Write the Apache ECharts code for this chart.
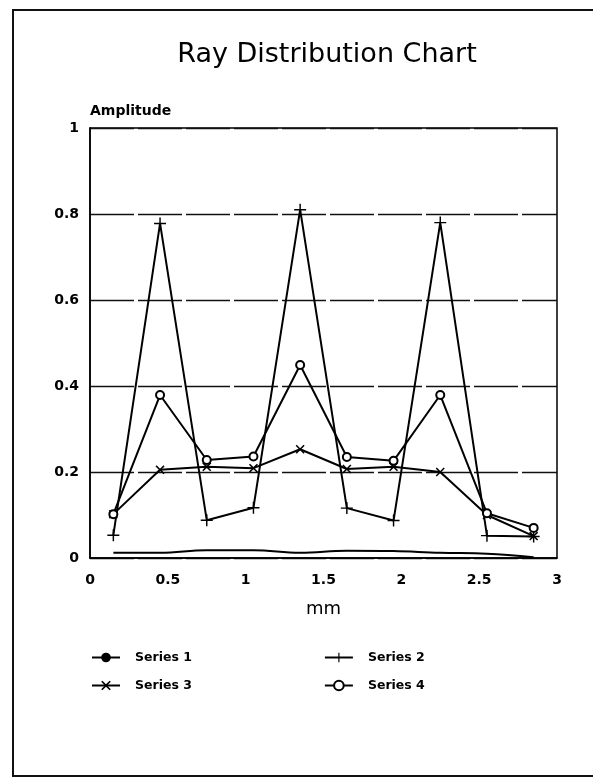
<!DOCTYPE html>
<html>
<head>
<meta charset="utf-8">
<script src="https://cdn.jsdelivr.net/npm/echarts@6/dist/echarts.min.js"></script>
<style>
html,body{margin:0;padding:0;background:#fff;}
#chart{width:593px;height:778px;}
</style>
</head>
<body>
<div id="chart"></div>
<script>
// Data
var xPositions = [0.15, 0.45, 0.75, 1.05, 1.35, 1.65, 1.95, 2.25, 2.55, 2.85];
var series1 = [0.012, 0.012, 0.018, 0.018, 0.012, 0.017, 0.016, 0.012, 0.010, 0.002];
var series2 = [0.053, 0.778, 0.088, 0.117, 0.810, 0.116, 0.087, 0.780, 0.052, 0.050];
var series3 = [0.102, 0.205, 0.212, 0.209, 0.253, 0.207, 0.212, 0.200, 0.100, 0.051];
var series4 = [0.102, 0.379, 0.228, 0.236, 0.449, 0.235, 0.226, 0.379, 0.104, 0.070];
var seriesNames = ['Series 1', 'Series 2', 'Series 3', 'Series 4'];
var xTicks = [0, 0.5, 1, 1.5, 2, 2.5, 3];
var yTicks = [0, 0.2, 0.4, 0.6, 0.8, 1];
var titleText = 'Ray Distribution Chart';
var xName = 'mm';
var yName = 'Amplitude';

function pairs(ys) {
  return ys.map(function (y, i) { return [xPositions[i], y]; });
}

var plusPath = 'path://M4.4,0 L5.6,0 L5.6,4.4 L10,4.4 L10,5.6 L5.6,5.6 L5.6,10 L4.4,10 L4.4,5.6 L0,5.6 L0,4.4 L4.4,4.4 Z';
var xPath = 'path://M0,1.2 L1.2,0 L5,3.8 L8.8,0 L10,1.2 L6.2,5 L10,8.8 L8.8,10 L5,6.2 L1.2,10 L0,8.8 L3.8,5 Z';

var chart = echarts.init(document.getElementById('chart'), null, {renderer: 'canvas'});

var legendText = {
  fontFamily: 'DejaVu Sans',
  fontWeight: 'bold',
  fontSize: 12.5,
  color: '#000',
  width: 95,
  padding: [0, 0, 0, 10]
};

var option = {
  animation: false,
  backgroundColor: '#fff',
  title: {
    text: titleText,
    left: 322,
    textAlign: 'center',
    top: 36,
    textStyle: {
      fontFamily: 'DejaVu Sans',
      fontWeight: 'normal',
      fontSize: 27,
      color: '#000'
    }
  },
  graphic: [{
    type: 'rect',
    shape: {x: 13, y: 10, width: 620, height: 766},
    style: {fill: 'none', stroke: '#111', lineWidth: 2},
    silent: true
  }],
  legend: [{
    data: [seriesNames[0], seriesNames[1]],
    left: 91,
    top: 651,
    padding: 0,
    itemWidth: 28,
    itemHeight: 12,
    itemGap: 132,
    textStyle: legendText
  }, {
    data: [seriesNames[2], seriesNames[3]],
    left: 91,
    top: 679,
    padding: 0,
    itemWidth: 28,
    itemHeight: 12,
    itemGap: 132,
    textStyle: legendText
  }],
  grid: {
    left: 90,
    right: 36,
    top: 128,
    bottom: 220,
    show: true,
    borderColor: '#000',
    borderWidth: 1.5,
    containLabel: false
  },
  xAxis: {
    type: 'value',
    min: xTicks[0],
    max: xTicks[xTicks.length - 1],
    interval: 0.5,
    name: xName,
    nameLocation: 'middle',
    nameGap: 42,
    nameTextStyle: {fontFamily: 'DejaVu Sans', fontSize: 18, color: '#000'},
    axisLine: {show: true, lineStyle: {color: '#000', width: 1.5}},
    axisTick: {show: false},
    splitLine: {show: false},
    axisLabel: {
      margin: 15,
      fontFamily: 'DejaVu Sans',
      fontWeight: 'bold',
      fontSize: 14,
      color: '#000'
    }
  },
  yAxis: {
    type: 'value',
    min: yTicks[0],
    max: yTicks[yTicks.length - 1],
    interval: 0.2,
    name: yName,
    nameLocation: 'end',
    nameGap: 10,
    nameTextStyle: {
      fontFamily: 'DejaVu Sans',
      fontWeight: 'bold',
      fontSize: 14,
      color: '#000',
      align: 'left',
      verticalAlign: 'bottom'
    },
    axisLine: {show: true, lineStyle: {color: '#000', width: 1.5}},
    axisTick: {show: false},
    splitLine: {show: true, lineStyle: {color: '#111', width: 1.3, type: [44, 4]}},
    axisLabel: {
      margin: 11,
      fontFamily: 'DejaVu Sans',
      fontWeight: 'bold',
      fontSize: 14,
      color: '#000'
    }
  },
  series: [{
    name: seriesNames[0],
    type: 'line',
    data: pairs(series1),
    smooth: 0.4,
    symbol: 'circle',
    symbolSize: 3,
    showSymbol: false,
    lineStyle: {color: '#000', width: 2},
    itemStyle: {color: '#000'}
  }, {
    name: seriesNames[1],
    type: 'line',
    data: pairs(series2),
    symbol: plusPath,
    symbolSize: 12,
    lineStyle: {color: '#000', width: 2},
    itemStyle: {color: '#000'}
  }, {
    name: seriesNames[2],
    type: 'line',
    data: pairs(series3),
    symbol: xPath,
    symbolSize: 9,
    lineStyle: {color: '#000', width: 2},
    itemStyle: {color: '#000'}
  }, {
    name: seriesNames[3],
    type: 'line',
    data: pairs(series4),
    symbol: 'emptyCircle',
    symbolSize: 8,
    lineStyle: {color: '#000', width: 2},
    itemStyle: {color: '#000', borderColor: '#000', borderWidth: 1.5}
  }]
};

chart.setOption(option);
</script>
</body>
</html>
